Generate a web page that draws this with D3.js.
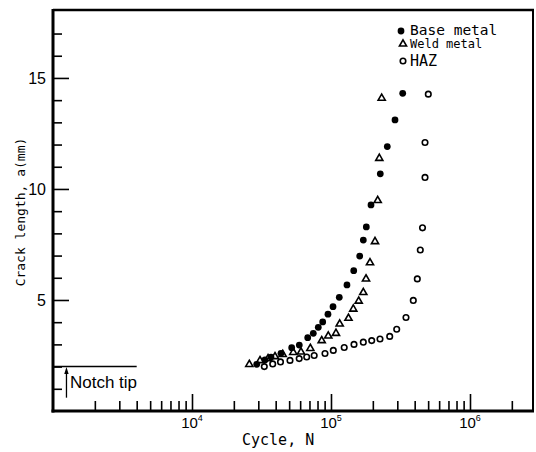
<!DOCTYPE html>
<html>
<head>
<meta charset="utf-8">
<script src="https://cdn.jsdelivr.net/npm/d3@7"></script>
<style>
  html, body { margin: 0; padding: 0; background: #fff; }
  svg { display: block; }
</style>
</head>
<body>
<div id="chart"></div>
<script>
// ---- Data ----
const baseN = [328000, 288700, 254100, 226300, 194000, 179500, 170800, 160900, 145700, 130300, 114700, 103400, 95100, 87150, 81000, 74600, 68000, 59150, 52150, 43680, 37000, 33500, 29220];
const baseA = [14.31, 13.11, 11.91, 10.68, 9.28, 8.29, 7.70, 6.98, 6.32, 5.68, 5.12, 4.70, 4.36, 4.01, 3.77, 3.50, 3.30, 2.97, 2.85, 2.60, 2.43, 2.30, 2.10];

const weldN = [231600, 222600, 216800, 207300, 190800, 178600, 170800, 158200, 144700, 133600, 115500, 108600, 95600, 85720, 71000, 60840, 53550, 44930, 39550, 35230, 30850, 25840];
const weldA = [14.09, 11.38, 9.48, 7.63, 6.68, 5.95, 5.34, 4.95, 4.59, 4.18, 3.92, 3.50, 3.38, 3.17, 2.82, 2.66, 2.64, 2.55, 2.45, 2.36, 2.27, 2.10];

const hazN = [501200, 474700, 474700, 455400, 439000, 417800, 390900, 346400, 297000, 264500, 225200, 196300, 170800, 146400, 124500, 103900, 90540, 75700, 66880, 59050, 50700, 43320, 38080, 33130];
const hazA = [14.27, 12.09, 10.52, 8.25, 7.25, 5.95, 4.98, 4.21, 3.68, 3.36, 3.24, 3.17, 3.10, 3.00, 2.86, 2.73, 2.59, 2.50, 2.43, 2.36, 2.28, 2.21, 2.12, 2.00];

const seriesNames = ["Base metal", "Weld metal", "HAZ"];

const yMajorTicks = [5, 10, 15];
const yMinorTicks = [1, 2, 3, 4, 6, 7, 8, 9, 11, 12, 13, 14, 16, 17];
const xMajorTicks = [1e4, 1e5, 1e6];
const xMajorExp = ["4", "5", "6"];
const xMinorTicks = [2e3, 3e3, 4e3, 5e3, 6e3, 7e3, 8e3, 9e3,
                     2e4, 3e4, 4e4, 5e4, 6e4, 7e4, 8e4, 9e4,
                     2e5, 3e5, 4e5, 5e5, 6e5, 7e5, 8e5, 9e5, 2e6];

const xTitle = "Cycle, N";
const yTitle = "Crack length, a(mm)";

// notch annotation (data coordinates)
const notchA = 2;
const notchEndN = 4000;
const arrowN = 1250;
const arrowBottomA = 0.6;
const notchLabel = "Notch tip";

(function () {
  // ---- Layout ----
  const W = 536, H = 452;
  const mLeft = 53, mRight = 533, mTop = 10, mBottom = 411;

  const x = d3.scaleLog().domain([1e3, 2.84e6]).range([mLeft, mRight]);
  const y = d3.scaleLinear().domain([0, 18.06]).range([mBottom, mTop]);

  const svg = d3.select("#chart").append("svg")
    .attr("width", W).attr("height", H);

  const mono = "'DejaVu Sans Mono', monospace";
  const sans = "'Liberation Sans', Arial, sans-serif";

  // y axis ticks (inward)
  const yMajor = svg.append("g").attr("transform", `translate(${mLeft},0)`)
    .call(d3.axisLeft(y).tickValues(yMajorTicks).tickSize(-16).tickPadding(7));
  yMajor.select(".domain").remove();
  yMajor.selectAll("line").attr("stroke", "#000").attr("stroke-width", 1.6);
  yMajor.selectAll("text").attr("font-family", sans).attr("font-size", 16).attr("fill", "#000");

  const yMinor = svg.append("g").attr("transform", `translate(${mLeft},0)`)
    .call(d3.axisLeft(y).tickValues(yMinorTicks).tickSize(-9).tickFormat(""));
  yMinor.select(".domain").remove();
  yMinor.selectAll("line").attr("stroke", "#000").attr("stroke-width", 1.6);

  // x axis ticks (inward)
  const xMajor = svg.append("g").attr("transform", `translate(0,${mBottom})`)
    .call(d3.axisBottom(x).tickValues(xMajorTicks).tickSize(-17).tickFormat(""));
  xMajor.select(".domain").remove();
  xMajor.selectAll("line").attr("stroke", "#000").attr("stroke-width", 1.6);

  const xMinor = svg.append("g").attr("transform", `translate(0,${mBottom})`)
    .call(d3.axisBottom(x).tickValues(xMinorTicks).tickSize(-10).tickFormat(""));
  xMinor.select(".domain").remove();
  xMinor.selectAll("line").attr("stroke", "#000").attr("stroke-width", 1.6);

  // x tick labels with superscripts
  const xl = svg.append("g").selectAll("text").data(xMajorTicks).join("text")
    .attr("x", d => x(d)).attr("y", 428)
    .attr("text-anchor", "middle")
    .attr("font-family", sans).attr("font-size", 15).attr("fill", "#000");
  xl.append("tspan").text("10");
  xl.append("tspan").attr("dy", -7).attr("font-size", 9).text((d, i) => xMajorExp[i]);

  // frame
  svg.append("line").attr("x1", mLeft).attr("x2", mLeft).attr("y1", mTop - 1).attr("y2", mBottom + 1.5)
    .attr("stroke", "#000").attr("stroke-width", 3);
  svg.append("line").attr("x1", mLeft - 1.5).attr("x2", mRight + 1).attr("y1", mBottom).attr("y2", mBottom)
    .attr("stroke", "#000").attr("stroke-width", 3);
  svg.append("line").attr("x1", mLeft).attr("x2", mRight + 1).attr("y1", mTop).attr("y2", mTop)
    .attr("stroke", "#000").attr("stroke-width", 2.4);
  svg.append("line").attr("x1", mRight).attr("x2", mRight).attr("y1", mTop).attr("y2", mBottom)
    .attr("stroke", "#000").attr("stroke-width", 2);

  // axis titles
  svg.append("text").attr("x", 242).attr("y", 445)
    .attr("font-family", mono).attr("font-size", 15).attr("fill", "#000").text(xTitle);
  svg.append("text").attr("transform", "translate(25,212) rotate(-90)")
    .attr("text-anchor", "middle")
    .attr("font-family", mono).attr("font-size", 13).attr("fill", "#000").text(yTitle);

  // notch annotation
  svg.append("line").attr("x1", x(1e3)).attr("x2", x(notchEndN))
    .attr("y1", y(notchA)).attr("y2", y(notchA))
    .attr("stroke", "#000").attr("stroke-width", 1.5);
  svg.append("line").attr("x1", x(arrowN)).attr("x2", x(arrowN))
    .attr("y1", y(arrowBottomA)).attr("y2", y(notchA) + 5)
    .attr("stroke", "#000").attr("stroke-width", 1.3);
  svg.append("path")
    .attr("d", `M${x(arrowN)},${y(notchA) + 0.5} l-2.2,7 l4.4,0 z`)
    .attr("fill", "#000");
  svg.append("text").attr("x", x(1325)).attr("y", y(1.04))
    .attr("font-family", sans).attr("font-size", 17).attr("fill", "#000").text(notchLabel);

  // markers
  const sym = {
    circleFilled: d3.symbol(d3.symbolCircle, 36)(),
    triangle: d3.symbol(d3.symbolTriangle, 22)(),
    circleOpen: d3.symbol(d3.symbolCircle, 24)()
  };

  function drawSeries(N, A, kind) {
    const pts = N.map((n, i) => [n, A[i]]);
    const g = svg.append("g");
    const p = g.selectAll("path").data(pts).join("path")
      .attr("transform", d => `translate(${x(d[0])},${y(d[1])})`)
      .attr("d", sym[kind]);
    if (kind === "circleFilled") p.attr("fill", "#000");
    else p.attr("fill", "#fff").attr("stroke", "#000").attr("stroke-width", 1.6);
  }
  drawSeries(hazN, hazA, "circleOpen");
  drawSeries(weldN, weldA, "triangle");
  drawSeries(baseN, baseA, "circleFilled");

  // legend
  const legend = svg.append("g");
  legend.append("path").attr("transform", "translate(401,31)").attr("d", sym.circleFilled).attr("fill", "#000");
  legend.append("text").attr("x", 410).attr("y", 35).attr("font-family", mono).attr("font-size", 14.5).attr("fill", "#000").text(seriesNames[0]);
  legend.append("path").attr("transform", "translate(403,44)").attr("d", sym.triangle)
    .attr("fill", "#fff").attr("stroke", "#000").attr("stroke-width", 1.6);
  legend.append("text").attr("x", 410).attr("y", 47.5).attr("font-family", mono).attr("font-size", 12).attr("fill", "#000").text(seriesNames[1]);
  legend.append("path").attr("transform", "translate(403,61)").attr("d", sym.circleOpen)
    .attr("fill", "#fff").attr("stroke", "#000").attr("stroke-width", 1.6);
  legend.append("text").attr("x", 410).attr("y", 66).attr("font-family", mono).attr("font-size", 15).attr("fill", "#000").text(seriesNames[2]);
})();
</script>
</body>
</html>
